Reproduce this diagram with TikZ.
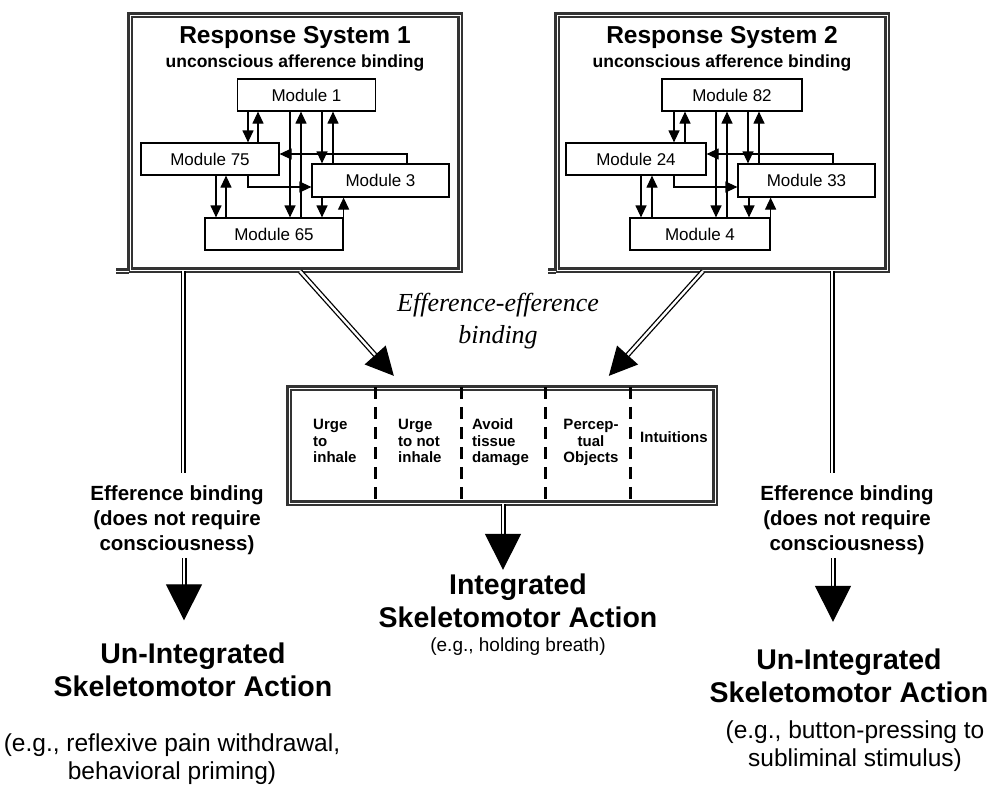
\documentclass[tikz,border=0pt]{standalone}
\usepackage{fontspec}
\setmainfont{Liberation Sans}
\newfontfamily\eefont{Liberation Serif}
\usetikzlibrary{positioning,arrows.meta,calc}
\tikzset{
  rsframe/.style={draw=black!80, double=white, double distance=1pt, line width=2.3pt,
                  minimum width=330pt, minimum height=255pt, inner sep=0pt},
  frameline/.style={draw=black!80, double=white, double distance=1pt, line width=2.3pt},
  rstitle/.style={font=\bfseries\fontsize{24.5}{26}\selectfont, inner sep=0pt},
  rssub/.style={font=\bfseries\fontsize{17.5}{19}\selectfont, inner sep=0pt},
  module/.style={draw, line width=1.2pt, fill=white, minimum width=138pt, minimum height=32pt,
                 inner sep=0pt, font=\fontsize{17}{18}\selectfont},
  link/.style={-{Triangle[length=12pt,width=11pt]}, line width=1.2pt},
  dline/.style={draw=black, double=white, double distance=2.4pt, line width=1.3pt},
  bigflow/.style={dline, -{Triangle[length=28pt,width=28pt]}},
  bigdown/.style={dline, -{Triangle[length=36pt,width=36pt]}},
  divider/.style={line width=3pt, dash pattern=on 12pt off 8pt},
  col/.style={font=\bfseries\fontsize{15}{16.5}\selectfont, inner sep=0pt},
  ebtext/.style={font=\bfseries\fontsize{20.5}{25}\selectfont, align=center, inner sep=3pt},
  action/.style={font=\bfseries\fontsize{28.5}{33}\selectfont, align=center, inner sep=0pt},
  example/.style={font=\fontsize{24.5}{28}\selectfont, align=center, inner sep=0pt},
}
\begin{document}
\begin{tikzpicture}[x=1pt, y=-1pt]
  \fill[white] (0,0) rectangle (1006,787);
  \useasboundingbox (0,0) rectangle (1006,787);

  % --- response system 1
  \node[rsframe] (rs1) at (295,142.5) {};
  \draw[frameline] (rs1.south west) -- ++(-13,0);
  \node[rstitle] (rs1t) at (295,37) {Response System 1};
  \node[rssub] (rs1s) at (295,63) {unconscious afference binding};
  \node[module] (m1) at (306.5,95) {Module 1};
  \node[module] (m75) at (210,159) {Module 75};
  \node[module, minimum width=137pt, minimum height=33pt] (m3) at (380.5,180.5) {Module 3};
  \node[module] (m65) at (274,234) {Module 65};
  \draw[link] (m1.south -| 248,0) -- (m75.north -| 248,0);
  \draw[link] (m75.north -| 258,0) -- (m1.south -| 258,0);
  \draw[link] (m1.south -| 290,0) -- (m65.north -| 290,0);
  \draw[link] (m65.north -| 301,0) -- (m1.south -| 301,0);
  \draw[link] (m1.south -| 322,0) -- (m3.north -| 322,0);
  \draw[link] (m3.north -| 333,0) -- (m1.south -| 333,0);
  \draw[link] (m3.north -| 407,0) |- (m75.east |- 0,154);
  \draw[link] (m75.south -| 248,0) |- (m3.west |- 0,187);
  \draw[link] (m75.south -| 216,0) -- (m65.north -| 216,0);
  \draw[link] (m65.north -| 226,0) -- (m75.south -| 226,0);
  \draw[link] (m3.south -| 322,0) -- (m65.north -| 322,0);
  \draw[link] (m65.north east) -- (m3.south -| m65.north east);

  % --- response system 2
  \node[rsframe] (rs2) at (722,142.5) {};
  \draw[frameline] (rs2.south west) -- ++(-8,0);
  \node[rstitle] (rs2t) at (722,37) {Response System 2};
  \node[rssub] (rs2s) at (722,63) {unconscious afference binding};
  \node[module, minimum width=140pt] (m82) at (732,95) {Module 82};
  \node[module, minimum width=140pt] (m24) at (636,159) {Module 24};
  \node[module, minimum width=137pt, minimum height=33pt] (m33) at (806.5,180.5) {Module 33};
  \node[module, minimum width=140pt] (m4) at (700,234) {Module 4};
  \draw[link] (m82.south -| 674,0) -- (m24.north -| 674,0);
  \draw[link] (m24.north -| 685,0) -- (m82.south -| 685,0);
  \draw[link] (m82.south -| 716,0) -- (m4.north -| 716,0);
  \draw[link] (m4.north -| 727,0) -- (m82.south -| 727,0);
  \draw[link] (m82.south -| 748,0) -- (m33.north -| 748,0);
  \draw[link] (m33.north -| 759,0) -- (m82.south -| 759,0);
  \draw[link] (m33.north -| 833,0) |- (m24.east |- 0,154);
  \draw[link] (m24.south -| 674,0) |- (m33.west |- 0,187);
  \draw[link] (m24.south -| 641,0) -- (m4.north -| 641,0);
  \draw[link] (m4.north -| 652,0) -- (m24.south -| 652,0);
  \draw[link] (m33.south -| 749,0) -- (m4.north -| 749,0);
  \draw[link] (m4.north east) -- (m33.south -| m4.north east);

  % --- efference-efference binding
  \node[font=\eefont\itshape\fontsize{26}{32}\selectfont, align=center, inner sep=0pt] (eeb)
       at (498,321) {Efference-efference\\binding};
  \node[rsframe, minimum width=426pt, minimum height=115pt] (ib) at (502,445.5) {};
  \draw[divider] (ib.north -| 375,0) -- (ib.south -| 375,0);
  \draw[divider] (ib.north -| 461,0) -- (ib.south -| 461,0);
  \draw[divider] (ib.north -| 545,0) -- (ib.south -| 545,0);
  \draw[divider] (ib.north -| 630,0) -- (ib.south -| 630,0);
  \node[col, anchor=north west, align=left] (c1) at (313,418) {\strut Urge\\to\\inhale};
  \node[col, anchor=north west, align=left] (c2) at (398,418) {\strut Urge\\to not\\inhale};
  \node[col, anchor=north west, align=left] (c3) at (472,418) {\strut Avoid\\tissue\\damage};
  \node[col, anchor=north, align=center] (c4) at (591,418) {\strut Percep-\\tual\\Objects};
  \node[col, anchor=west] (c5) at (640,437) {Intuitions};
  \draw[bigflow] (rs1.south -| 300,0) -- ($(ib.north west)+(106,-11)$);
  \draw[bigflow] (rs2.south -| 703,0) -- ($(ib.north west)+(321,-11)$);

  % --- actions
  \node[action] (ia) at (518,601) {Integrated\\Skeletomotor Action};
  \node[example, font=\fontsize{19}{22}\selectfont] (iex) at (518,647) {(e.g., holding breath)};
  \draw[bigdown, shorten >=4pt] (ib.south -| 503,0) -- (ia.north -| 503,0);

  \node[ebtext] (eb1) at (177,520) {Efference binding\\(does not require\\consciousness)};
  \node[action] (ua1) at (193,669.5) {Un-Integrated\\Skeletomotor Action};
  \node[example] (ex1) at (172,759) {(e.g., reflexive pain withdrawal,\\behavioral priming)};
  \draw[dline, shorten >=9pt] (rs1.south -| 183,0) -- (eb1.north -| 183,0);
  \draw[bigdown, shorten >=22pt] (eb1.south -| 184,0) -- (ua1.north -| 184,0);

  \node[ebtext] (eb2) at (847,520) {Efference binding\\(does not require\\consciousness)};
  \node[action] (ua2) at (849,676) {Un-Integrated\\Skeletomotor Action};
  \node[example] (ex2) at (855,746) {(e.g., button-pressing to\\subliminal stimulus)};
  \draw[dline, shorten >=9pt] (rs2.south -| 832,0) -- (eb2.north -| 832,0);
  \draw[bigdown, shorten >=27pt] (eb2.south -| 833,0) -- (ua2.north -| 833,0);
\end{tikzpicture}
\end{document}
